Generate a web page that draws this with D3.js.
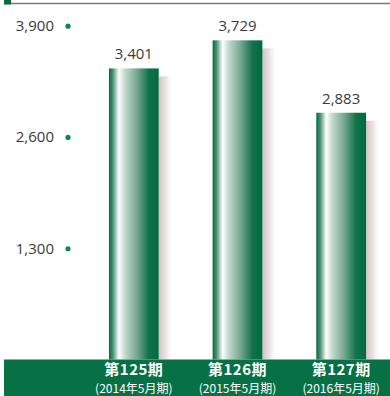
<!DOCTYPE html>
<html><head><meta charset="utf-8">
<script src="https://cdn.jsdelivr.net/npm/d3@7"></script>
<style>body{margin:0;background:#fff}svg{display:block}</style>
</head><body>
<script>
const categories = ["第125期","第126期","第127期"];
const subLabels = ["(2014年5月期)","(2015年5月期)","(2016年5月期)"];
const values = [3401, 3729, 2883];
const tickValues = [1300, 2600, 3900];

const W = 390, H = 396;
const svg = d3.select("body").append("svg").attr("width", W).attr("height", H);
const defs = svg.append("defs");
const g1 = defs.append("linearGradient").attr("id","barG").attr("x1","0").attr("x2","1").attr("y1","0").attr("y2","0");
[[0,"#006a40"],[0.08,"#4f9276"],[0.2,"#ffffff"],[0.32,"#c3d9cd"],[0.55,"#7aa994"],[0.8,"#12724a"],[1,"#006a40"]]
  .forEach(([o,c])=>g1.append("stop").attr("offset",o).attr("stop-color",c));
const g2 = defs.append("linearGradient").attr("id","shG").attr("x1","0").attr("x2","1");
[[0,"#cfc2c2",1],[0.5,"#e6dede",0.8],[1,"#ffffff",0]]
  .forEach(([o,c,a])=>g2.append("stop").attr("offset",o).attr("stop-color",c).attr("stop-opacity",a));

const base = 359.5;
const y = d3.scaleLinear().domain([0,3900]).range([base, 25.7]);
const x = d3.scaleBand().domain(categories).range([82, 393]).paddingInner(0.52).paddingOuter(0.26);
const numFont = "'Open Sans', Lato, sans-serif";

// top line and marker
svg.append("line").attr("x1",4).attr("x2",390).attr("y1",3.5).attr("y2",3.5).attr("stroke","#777").attr("stroke-width",1.5);
svg.append("rect").attr("x",4).attr("y",0).attr("width",7).attr("height",4.5).attr("fill","#0a6b3e");

// y axis ticks
const ax = svg.append("g");
ax.selectAll("text").data(tickValues).join("text")
  .attr("x",54).attr("y",d=>y(d)).attr("dy","0.36em").attr("text-anchor","end")
  .attr("font-family",numFont).attr("font-weight",400).attr("font-size",15).attr("fill","#3a3a3a")
  .text(d=>d3.format(",")(d));
ax.selectAll("circle").data(tickValues).join("circle")
  .attr("cx",68).attr("cy",d=>y(d)+0.5).attr("r",2.6).attr("fill","#0c8a52");

// shadows
svg.selectAll("rect.sh").data(values).join("rect").attr("class","sh")
  .attr("x",(d,i)=>x(categories[i])+x.bandwidth()).attr("y",d=>y(d)+8)
  .attr("width",15).attr("height",d=>base-y(d)-8).attr("fill","url(#shG)");
// bars
svg.selectAll("rect.bar").data(values).join("rect").attr("class","bar")
  .attr("x",(d,i)=>x(categories[i])).attr("y",d=>y(d))
  .attr("width",x.bandwidth()).attr("height",d=>base-y(d)).attr("fill","url(#barG)");
// value labels
svg.selectAll("text.val").data(values).join("text").attr("class","val")
  .attr("x",(d,i)=>x(categories[i])+x.bandwidth()/2).attr("y",d=>y(d)-9)
  .attr("text-anchor","middle").attr("font-family",numFont).attr("font-weight",400)
  .attr("font-size",15).attr("fill","#3a3a3a").text(d=>d3.format(",")(d));

// bottom band
svg.append("rect").attr("x",4).attr("y",base).attr("width",W-4).attr("height",H-base).attr("fill","#077145");
svg.selectAll("text.cat").data(categories).join("text").attr("class","cat")
  .attr("x",d=>x(d)+x.bandwidth()/2).attr("y",374.5).attr("text-anchor","middle")
  .attr("font-family","'Noto Sans CJK JP', sans-serif").attr("font-weight",700).attr("font-size",15).attr("fill","#fff")
  .attr("letter-spacing",0.5).text(d=>d);
svg.selectAll("text.sub").data(subLabels).join("text").attr("class","sub")
  .attr("x",(d,i)=>x(categories[i])+x.bandwidth()/2).attr("y",392.5).attr("text-anchor","middle")
  .attr("font-family","'Noto Sans CJK JP', sans-serif").attr("font-size",12).attr("fill","#fff")
  .text(d=>d);
</script>
</body></html>
